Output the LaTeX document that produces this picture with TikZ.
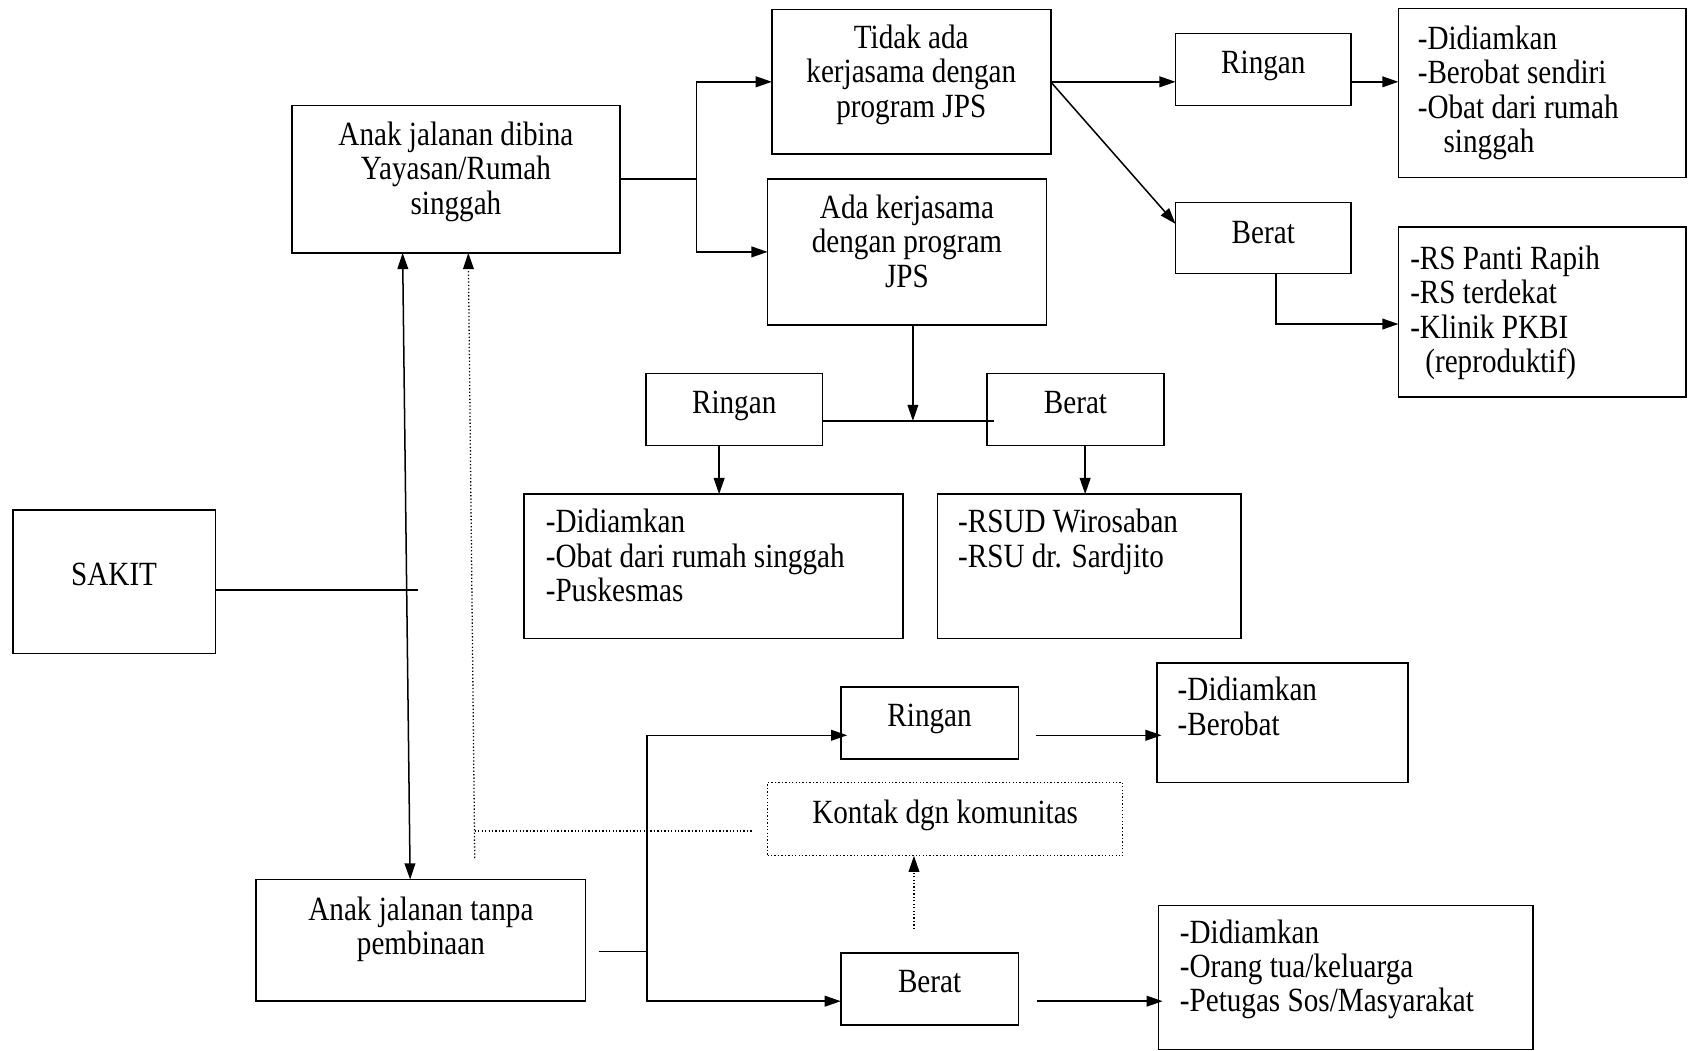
\documentclass[tikz,border=0pt]{standalone}
\usepackage{fontspec}
\setmainfont{Liberation Serif}[FakeStretch=0.86]
\usetikzlibrary{arrows.meta}
\newcommand\cbx[4]{\vbox to #2pt{\hsize=#1pt\parindent=0pt\parskip=0pt\baselineskip=32pt\lineskiplimit=-40pt\vskip#3pt\centering\strut #4\par\vfil}}
\newcommand\lbx[5]{\vbox to #2pt{\hsize=#1pt\parindent=0pt\parskip=0pt\baselineskip=32pt\lineskiplimit=-40pt\vskip#3pt\raggedright\leftskip=#4pt\strut #5\par\vfil}}
\tikzset{
  bx/.style={draw, line width=1.5pt, inner sep=0pt, outer sep=0pt, anchor=north west},
  dbx/.style={bx, dash pattern=on 1.2pt off 2pt, line width=1.2pt},
  ln/.style={line width=1.4pt},
  arr/.style={ln, -{Triangle[length=15pt,width=10pt]}},
  arrb/.style={ln, {Triangle[length=15pt,width=10pt]}-{Triangle[length=15pt,width=10pt]}},
  dl/.style={line width=1.2pt, dash pattern=on 1.2pt off 2pt},
  darr/.style={dl, -{Triangle[length=15pt,width=10pt]}},
}
\begin{document}
\begin{tikzpicture}[x=1pt,y=-1pt,font=\fontsize{31.5pt}{32pt}\selectfont]
\fill[white] (0,0) rectangle (1568,976);
\useasboundingbox (0,0) rectangle (1568,976);
% boxes
\node[bx] (tidak) at (717,9) {\cbx{259}{134}{13.6}{Tidak ada\\kerjasama dengan\\program JPS}};
\node[bx] (ada) at (713,166) {\cbx{259}{136}{14.6}{Ada kerjasama\\dengan program\\JPS}};
\node[bx] (dibina) at (271,98) {\cbx{305}{137}{14.6}{Anak jalanan dibina\\Yayasan/Rumah\\singgah}};
\node[bx] (r1) at (1092,31) {\cbx{163}{67}{14.6}{Ringan}};
\node[bx] (b1) at (1092,188) {\cbx{163}{66}{15.6}{Berat}};
\node[bx] (l1) at (1299,8) {\lbx{267}{157}{15.6}{18}{-Didiamkan\\-Berobat sendiri\\-Obat dari rumah\\\hspace*{24pt}singgah}};
\node[bx] (l2) at (1299,211) {\lbx{267}{158}{16.6}{11}{-RS Panti Rapih\\-RS terdekat\\-Klinik PKBI\\\hspace*{14pt}(reproduktif)}};
\node[bx] (r2) at (600,347) {\cbx{164}{67}{14.6}{Ringan}};
\node[bx] (b2) at (917,347) {\cbx{164}{67}{14.6}{Berat}};
\node[bx] (l3) at (487,459) {\lbx{352}{134}{13.6}{20}{-Didiamkan\\-Obat dari rumah singgah\\-Puskesmas}};
\node[bx] (l4) at (871,459) {\lbx{282}{134}{13.6}{19}{-RSUD Wirosaban\\-RSU dr. Sardjito}};
\node[bx] (sakit) at (12,474) {\cbx{188}{133}{47.6}{SAKIT}};
\node[bx] (r3) at (781,638) {\cbx{165}{67}{14.6}{Ringan}};
\node[bx] (l5) at (1075,616) {\lbx{233}{111}{12.6}{19}{-Didiamkan\\-Berobat}};
\node[dbx] (kontak) at (713,727) {\cbx{330}{68}{15.6}{Kontak dgn komunitas}};
\node[bx] (tanpa) at (238,817) {\cbx{306}{113}{15.6}{Anak jalanan tanpa\\pembinaan}};
\node[bx] (b3) at (781,885) {\cbx{165}{67}{14.6}{Berat}};
\node[bx] (l6) at (1076,841) {\lbx{348}{134}{12.6}{20}{-Didiamkan\\-Orang tua/keluarga\\-Petugas Sos/Masyarakat}};
% junction coordinates
\coordinate (j1) at (647,166.5);
\coordinate (j2) at (848,391);
\coordinate (s1) at (388,548);
\coordinate (d1) at (441,797);
\coordinate (d2) at (441,772);
\coordinate (d3) at (700,772);
\coordinate (d4) at (849,863);
\coordinate (t0) at (556,884);
\coordinate (t1) at (601,884);
% top branch
\draw[ln] (dibina.east) -- (j1);
\draw[arr] (j1) |- (tidak.west);
\draw[arr] (j1) |- (ada.west);
\draw[arr] (tidak.east) -- (tidak.east -| r1.west);
\draw[arr] (tidak.east) -- ([yshift=-20pt]b1.north west);
\path (r1.east |- tidak.east) coordinate (r1o);
\draw[arr] (r1o) -- (r1o -| l1.west);
\path ([xshift=12pt]b1.south) coordinate (b1o);
\path ([yshift=-11pt]l2.west) coordinate (l2i);
\draw[arr] (b1o) |- (l2i);
% middle branch
\draw[arr] (ada.south -| j2) -- (j2);
\path ([xshift=6pt]b2.west |- j2) coordinate (b2i);
\draw[ln] (r2.east |- j2) -- (b2i);
\path ([xshift=-14pt]r2.south) coordinate (r2o);
\draw[arr] (r2o) -- (r2o |- l3.north);
\path ([xshift=9pt]b2.south) coordinate (b2o);
\draw[arr] (b2o) -- (b2o |- l4.north);
% SAKIT
\draw[ln] (sakit.east |- s1) -- (s1);
\draw[arrb] ([xshift=-49.5pt]dibina.south) -- ([xshift=-10pt]tanpa.north);
% dotted
\draw[darr] (d1) -- ([xshift=11.5pt]dibina.south);
\draw[dl] (d2) -- (d3);
\draw[darr] (d4) -- (d4 |- kontak.south);
% bottom branch
\path ([xshift=6pt,yshift=-11.5pt]r3.west) coordinate (r3i);
\path ([yshift=-11.5pt]b3.west) coordinate (b3i);
\draw[ln] (t0) -- (t1);
\draw[arr] (t1) |- (r3i);
\draw[arr] (t1) |- (b3i);
\path ([xshift=16pt,yshift=-11.5pt]r3.east) coordinate (r3o);
\draw[arr] (r3o) -- ([xshift=4pt]r3o -| l5.west);
\path ([xshift=17pt,yshift=-11.5pt]b3.east) coordinate (b3o);
\draw[arr] (b3o) -- ([xshift=4pt]b3o -| l6.west);
\end{tikzpicture}
\end{document}
